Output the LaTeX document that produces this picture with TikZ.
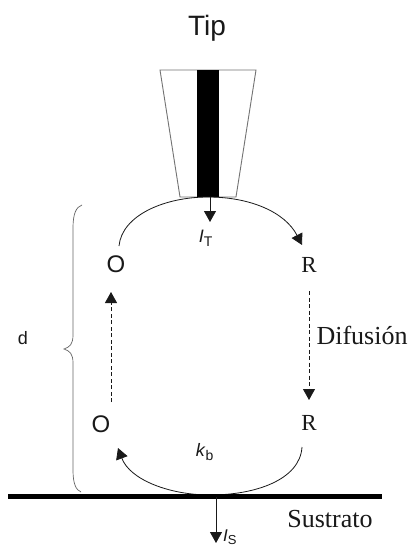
\documentclass[tikz,border=0pt]{standalone}
\usepackage{fontspec}
\setmainfont{Liberation Serif}
\setsansfont{Liberation Sans}
\usetikzlibrary{arrows.meta}
\tikzset{
  x=1pt,y=-1pt,
  sanslabel/.style={font=\sffamily,inner sep=0pt,text=black!90},
  seriflabel/.style={font=\rmfamily,inner sep=0pt,text=black!90},
  flow/.style={line width=0.8pt,black!90,-{Triangle[length=11pt,width=12pt]}},
  diffuse/.style={flow,dash pattern=on 4pt off 2.5pt},
  tipwall/.style={draw=black!55,line width=0.9pt,fill=white}
}
\begin{document}
\begin{tikzpicture}
\useasboundingbox (0,0) rectangle (409,548);
\fill[white] (0,0) rectangle (409,548);
\node[sanslabel,font=\sffamily\fontsize{28}{32}\selectfont] (tip) at (207,28) {Tip};
% tip body
\draw[tipwall] (160,70) -- (256,70) -- (236,197) -- (180,197) -- cycle;
\fill[black] (197,70) rectangle (219,197);
\coordinate (tipbase) at (210,197);
\coordinate (itend) at (210,222);
\draw[flow] (tipbase) -- (itend);
\node[sanslabel,font=\sffamily\fontsize{18}{20}\selectfont] (it) at (206,238) {\textit{I}\textsubscript{\fontsize{14}{16}\selectfont T}};
% species
\node[sanslabel,font=\sffamily\fontsize{24}{26}\selectfont] (o1) at (116,264) {O};
\node[seriflabel,font=\rmfamily\fontsize{23}{25}\selectfont] (r1) at (309,265) {R};
\node[sanslabel,font=\sffamily\fontsize{24}{26}\selectfont] (o2) at (101,424) {O};
\node[seriflabel,font=\rmfamily\fontsize{23}{25}\selectfont] (r2) at (309,423) {R};
% upper arc
\coordinate (ua) at (119,246);
\draw[flow] (ua) .. controls (122,215) and (165,197) .. (208,197)
  .. controls (250,197) and (285,212) .. (302,245);
% dashed diffusion
\coordinate (ol) at (111,402);
\coordinate (ou) at (111,292);
\coordinate (ru) at (309,291);
\coordinate (rl) at (309,400);
\draw[diffuse] (ol) -- (ou);
\draw[diffuse] (ru) -- (rl);
\node[seriflabel,font=\rmfamily\fontsize{26}{28}\selectfont] (dif) at (362,335) {Difusión};
% lower arc
\draw[flow] (302,447) .. controls (300,480) and (255,495) .. (210,495)
  .. controls (170,495) and (130,480) .. (118,448);
\node[sanslabel,font=\sffamily\fontsize{18}{20}\selectfont] (kb) at (205,452) {\textit{k}\textsubscript{\fontsize{14}{16}\selectfont b}};
% brace
\draw[black!60,line width=0.7pt] (82,205) .. controls (76,207) and (73,214) .. (73,228)
  -- (73,335) .. controls (73,344) and (70,347) .. (64,349)
  .. controls (70,351) and (73,354) .. (73,363)
  -- (73,470) .. controls (73,484) and (76,490) .. (81,492);
\node[sanslabel,font=\sffamily\fontsize{18}{20}\selectfont] (d) at (23,338) {d};
% substrate
\coordinate (sl) at (8,496.5);
\coordinate (sr) at (382,496.5);
\draw[black,line width=4.5pt] (sl) -- (sr);
\coordinate (sb) at (216,497);
\coordinate (se) at (216,543);
\draw[flow] (sb) -- (se);
\node[sanslabel,font=\sffamily\fontsize{17}{19}\selectfont,anchor=west] (is) at (223,537) {\textit{I}\textsubscript{\fontsize{13}{15}\selectfont S}};
\node[seriflabel,font=\rmfamily\fontsize{26}{28}\selectfont] (sus) at (330,519) {Sustrato};
\end{tikzpicture}
\end{document}
